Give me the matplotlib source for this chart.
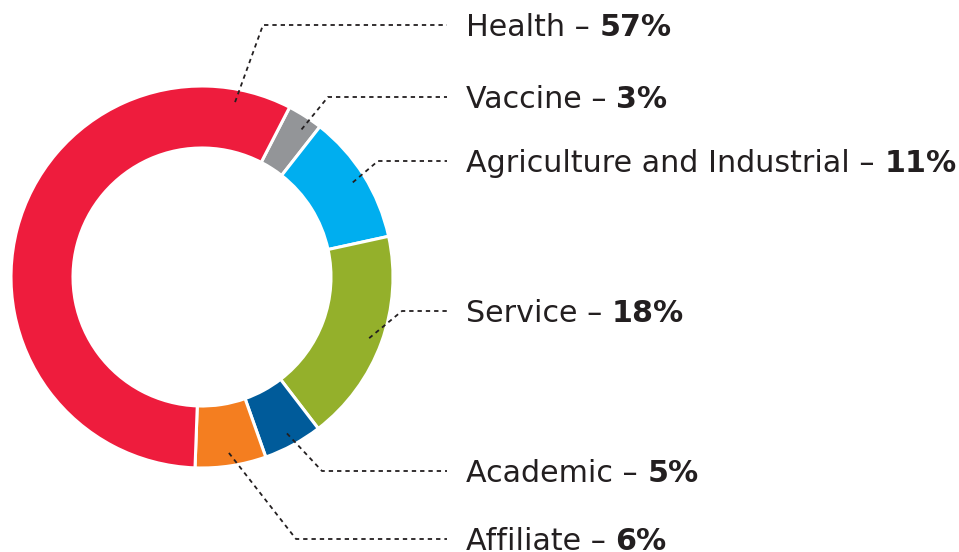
"""Donut chart of revenue share by segment with dashed leader labels."""

import matplotlib.pyplot as plt
import numpy as np

segments = ["Vaccine", "Agriculture and Industrial", "Service",
            "Academic", "Affiliate", "Health"]
shares = [3, 11, 18, 5, 6, 57]
colors = ["#939598", "#00AEEF", "#94B02B", "#005B9A", "#F47E20", "#EE1C3D"]

# layout (pixels, y measured from the top of the image)
W, H = 959, 552
CENTER = (202, 277)
R_OUT, R_IN = 191, 129
START_DEG = 27.3          # clockwise from 12 o'clock
ANCHOR_R = 178
LABEL_X, LINE_END_X = 466, 447
FONT_SIZE = 21.7
label_y = {"Health": 25, "Vaccine": 97, "Agriculture and Industrial": 161,
           "Service": 311, "Academic": 471, "Affiliate": 539}
corner_x = {"Health": 263, "Vaccine": 328, "Agriculture and Industrial": 378,
            "Service": 402, "Academic": 322, "Affiliate": 296}
anchor_override = {"Health": 10.7, "Vaccine": 34.0}

TEXT_COLOR = "#231F20"
plt.rcParams["font.family"] = ["DejaVu Sans"]

fig = plt.figure(figsize=(W / 100, H / 100), dpi=100)
ax = fig.add_axes([0, 0, 1, 1])
cx, cy = CENTER[0], H - CENTER[1]
ax.pie(shares, colors=colors, startangle=90 - START_DEG, counterclock=False,
       radius=R_OUT, center=(cx, cy),
       wedgeprops=dict(width=R_OUT - R_IN, edgecolor="white", linewidth=2.2))
ax.set_xlim(0, W)
ax.set_ylim(0, H)
ax.set_aspect("equal")
ax.axis("off")

cum = START_DEG
for name, share in zip(segments, shares):
    span = share * 3.6
    ang = anchor_override.get(name, cum + span / 2)
    cum += span
    t = np.deg2rad(ang)
    ax0 = cx + ANCHOR_R * np.sin(t)
    ay0 = cy + ANCHOR_R * np.cos(t)
    ly = H - label_y[name]
    ax.plot([ax0, corner_x[name], LINE_END_X], [ay0, ly, ly],
            color=TEXT_COLOR, linewidth=1.3, linestyle=(0, (2.4, 2.2)))
    txt = ax.text(LABEL_X, ly - 11, f"{name} \u2013 ", fontsize=FONT_SIZE,
                  color=TEXT_COLOR, ha="left", va="baseline")
    ax.annotate(f"{share}%", xy=(1, 0), xycoords=txt, fontsize=FONT_SIZE,
                fontweight="bold", color=TEXT_COLOR, ha="left", va="bottom")

fig.savefig("out.png", dpi=100)
